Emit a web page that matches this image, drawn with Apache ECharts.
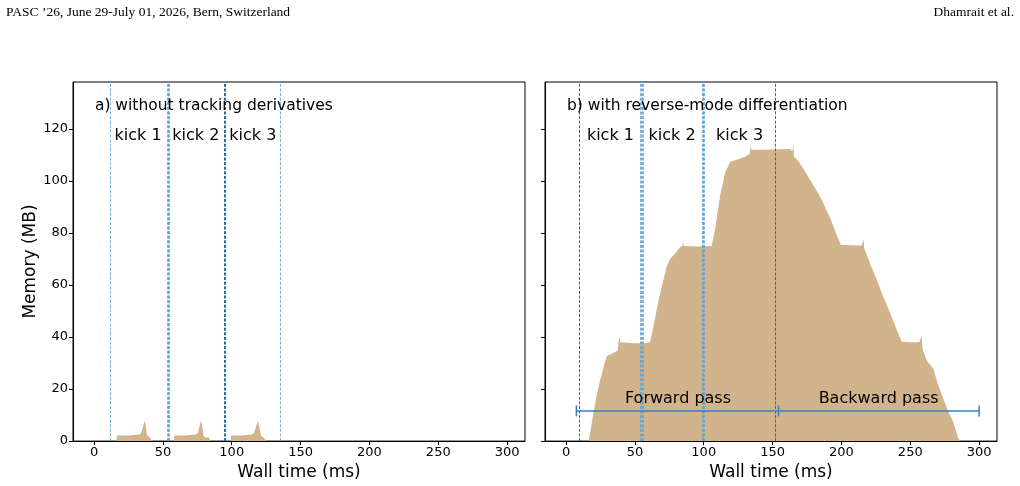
<!DOCTYPE html>
<html>
<head>
<meta charset="utf-8">
<script src="https://cdn.jsdelivr.net/npm/echarts@6.0.0/dist/echarts.min.js"></script>
<style>
  html, body { margin: 0; padding: 0; background: #fff; }
  #myChart { width: 1020px; height: 486px; }
</style>
</head>
<body>
<div id="myChart"></div>
<script>
// panel a) memory without tracking derivatives
let timeA = [16.3, 16.5, 25, 33.4, 34.6, 35.8, 36.6, 37.2, 37.8, 38.5, 40.7, 41.9,
  58.1, 58.3, 66, 73.8, 75.5, 76.8, 77.7, 78.3, 78.9, 79.4, 81, 82.8, 83.5, 85,
  99.3, 99.5, 107, 114.5, 116.3, 117.9, 118.9, 119.6, 120.4, 121.2, 123, 125.4]
let memA = [0, 2.2, 2.2, 2.5, 3.5, 6, 7.7, 6.8, 5, 2.2, 1.5, 0,
  0, 2.2, 2.2, 2.5, 3.3, 6, 7.9, 6.5, 4.5, 2.2, 1.2, 1.6, 1.2, 0,
  0, 2.2, 2.2, 2.5, 3.3, 6, 7.9, 6.5, 4.4, 2.2, 1.3, 0]

// panel b) memory with reverse-mode differentiation
let timeB = [16.5, 19, 22, 25, 28, 29.8, 33, 37.5, 38.2, 38.8, 39.4, 45, 50, 56, 61,
  63, 66, 68, 70.7, 73, 75.5, 79, 82.8, 84.5, 85, 85.5, 95, 105.8,
  108.2, 111.8, 115.5, 119.1, 125, 130, 133.5, 134.1, 134.7, 145, 155, 162.7, 164.5, 165, 165.5,
  168, 172, 177.2, 184.5, 192, 196, 199.5, 207, 214.7, 216, 216.6, 217.9,
  221, 225.6, 230, 235.3, 240, 243.8, 250, 256.6, 258.3, 258.8, 259.4,
  262, 266.8, 270, 274, 278, 281.3, 284.9, 286.5]
let memB = [0, 8, 17, 24, 30, 32.8, 33.5, 34.8, 38.5, 40.2, 38, 37.8, 37.6, 37.6, 38,
  43, 51, 56, 62, 67, 70, 72, 74.5, 75, 76.8, 75, 74.8, 75,
  81.3, 94, 103, 107.4, 108.3, 109.3, 110.5, 113.8, 112, 112, 112.2, 112.3, 111.5, 114.7, 109.5,
  108, 105, 100.4, 94, 85.5, 80, 75.5, 75.3, 75.2, 77.6, 74, 72.3,
  68, 62.1, 56, 49.4, 43, 38.2, 38, 38, 40.5, 36, 34.7,
  31, 27.7, 22, 16.3, 11, 7.3, 1, 0]

// kick boundaries
let lightLinesA = [11.6, 53.0, 53.6, 54.2, 54.8, 134.9]
let darkLinesA = [94.2, 95.1]
let lightLinesB = [54.2, 54.8, 55.4, 56.0, 98.8, 99.4, 100.0, 100.6]
let darkLinesB = [9.7, 152.3]

let kickNames = ['kick 1', 'kick 2', 'kick 3']
let kickPosA = [32, 73.9, 115.3]
let kickPosB = [32.2, 77, 126]
let kickY = 117.3

let titleA = 'a) without tracking derivatives'
let titleB = 'b) with reverse-mode differentiation'
let titleX = 0.6
let titleY = 128.8

// forward / backward pass bars
let passNames = ['Forward pass', 'Backward pass']
let passCenters = [81.3, 227]
let passLabelY = 16.2
let passEdges = [7.5, 154.3, 300]
let passY = 11.6

let xTicks = [0, 50, 100, 150, 200, 250, 300]
let yTicks = [0, 20, 40, 60, 80, 100, 120]

const FONT = 'DejaVu Sans'
const TAN = '#d2b48c'

function zip (xs, ys) {
  return xs.map((x, i) => [x, ys[i]])
}

function vlines (light, dark) {
  let d = []
  light.forEach(x => d.push({ xAxis: x, lineStyle: { color: '#5ea3d8', width: 1, type: [3, 1.6], opacity: 0.85 } }))
  dark.forEach(x => d.push({ xAxis: x, lineStyle: { color: '#1f6db0', width: 1, type: [3, 1.6] } }))
  return d
}

function xAxisOf (idx) {
  return {
    gridIndex: idx,
    type: 'value',
    min: -15.3,
    max: 313,
    name: 'Wall time (ms)',
    nameLocation: 'middle',
    nameGap: 22,
    nameTextStyle: { fontFamily: FONT, fontSize: 17, color: '#000' },
    axisLine: { show: true, onZero: false, lineStyle: { color: '#000', width: 1 } },
    axisTick: { show: true, length: 4, lineStyle: { color: '#000' }, customValues: xTicks },
    axisLabel: { fontFamily: FONT, fontSize: 13, color: '#000', margin: 5, customValues: xTicks },
    splitLine: { show: false }
  }
}

function yAxisOf (idx, showLabels) {
  return {
    gridIndex: idx,
    type: 'value',
    min: 0,
    max: 138,
    name: showLabels ? 'Memory (MB)' : '',
    nameLocation: 'middle',
    nameGap: 34,
    nameRotate: 90,
    nameTextStyle: { fontFamily: FONT, fontSize: 17, color: '#000' },
    axisLine: { show: true, onZero: false, lineStyle: { color: '#000', width: 1 } },
    axisTick: { show: true, length: 4, lineStyle: { color: '#000' }, customValues: yTicks },
    axisLabel: { show: showLabels, fontFamily: FONT, fontSize: 13, color: '#000', margin: 5, customValues: yTicks },
    splitLine: { show: false }
  }
}

function annot (idx, items, align, size) {
  return {
    type: 'scatter',
    xAxisIndex: idx,
    yAxisIndex: idx,
    symbolSize: 0,
    silent: true,
    z: 10,
    itemStyle: { opacity: 1 },
    data: items.map(it => ({ value: [it[0], it[1]], name: it[2] })),
    label: {
      show: true,
      position: 'inside',
      align: align,
      verticalAlign: 'middle',
      formatter: p => p.name,
      fontFamily: FONT,
      fontSize: size,
      color: '#000',
      opacity: 1,
      textBorderWidth: 0
    }
  }
}

let myChart = echarts.init(document.getElementById('myChart'))
myChart.setOption({
  animation: false,
  backgroundColor: '#fff',
  graphic: [
    { type: 'text', left: 6, top: 5, style: { text: 'PASC \u201926, June 29-July 01, 2026, Bern, Switzerland', fontFamily: 'Liberation Serif', fontSize: 13.5, fill: '#000' } },
    { type: 'text', right: 6, top: 5, style: { text: 'Dhamrait et al.', fontFamily: 'Liberation Serif', fontSize: 13.5, fill: '#000' } }
  ],
  grid: [
    { left: 73, top: 82, width: 452, height: 360, show: true, borderColor: '#000', borderWidth: 1 },
    { left: 545, top: 82, width: 452, height: 360, show: true, borderColor: '#000', borderWidth: 1 }
  ],
  xAxis: [xAxisOf(0), xAxisOf(1)],
  yAxis: [yAxisOf(0, true), yAxisOf(1, false)],
  series: [
    {
      type: 'line',
      xAxisIndex: 0,
      yAxisIndex: 0,
      data: zip(timeA, memA),
      symbol: 'none',
      lineStyle: { width: 0, opacity: 0 },
      areaStyle: { color: TAN, opacity: 1 },
      markLine: { silent: true, symbol: ['none', 'none'], label: { show: false }, data: vlines(lightLinesA, darkLinesA) }
    },
    {
      type: 'line',
      xAxisIndex: 1,
      yAxisIndex: 1,
      data: zip(timeB, memB),
      symbol: 'none',
      lineStyle: { width: 0, opacity: 0 },
      areaStyle: { color: TAN, opacity: 1 },
      markLine: { silent: true, symbol: ['none', 'none'], label: { show: false }, data: vlines(lightLinesB, darkLinesB) }
    },
    annot(0, [[titleX, titleY, titleA]], 'left', 15.5),
    annot(1, [[titleX, titleY, titleB]], 'left', 15.5),
    annot(0, kickNames.map((k, i) => [kickPosA[i], kickY, k]), 'center', 16),
    annot(1, kickNames.map((k, i) => [kickPosB[i], kickY, k]), 'center', 16),
    annot(1, passNames.map((k, i) => [passCenters[i], passLabelY, k]), 'center', 16),
    {
      type: 'line',
      xAxisIndex: 1,
      yAxisIndex: 1,
      data: [[passEdges[0], passY], [passEdges[2], passY]],
      symbol: 'none',
      silent: true,
      z: 5,
      lineStyle: { color: '#3a7fbc', width: 1.5 }
    },
    {
      type: 'scatter',
      xAxisIndex: 1,
      yAxisIndex: 1,
      data: passEdges.map(x => [x, passY]),
      symbol: 'rect',
      symbolSize: [1.5, 11],
      silent: true,
      z: 6,
      itemStyle: { color: '#3a7fbc', opacity: 1 }
    }
  ]
})
</script>
</body>
</html>
